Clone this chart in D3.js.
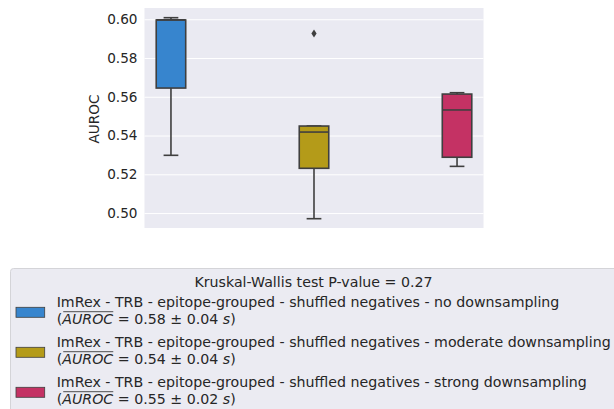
<!DOCTYPE html>
<html>
<head>
<meta charset="utf-8">
<script src="https://cdn.jsdelivr.net/npm/d3@7"></script>
<style>
  body { margin: 0; background: #fff; }
  svg { display: block; font-family: "DejaVu Sans", sans-serif; }
</style>
</head>
<body>
<svg id="chart" width="614" height="409"></svg>
<script>
// data
const groups = ["none", "moderate", "strong"];
const boxColors = ["#3785ce", "#b49b19", "#c43264"];
const whiskerLow = [0.5298, 0.4971, 0.5241];
const quartile1 = [0.5645, 0.5231, 0.5288];
const medians = [0.5997, 0.5418, 0.5532];
const quartile3 = [0.5996, 0.5449, 0.5614];
const whiskerHigh = [0.6008, 0.5449, 0.5621];
const outliers = [[], [0.5926], []];
const yTicks = [0.50, 0.52, 0.54, 0.56, 0.58, 0.60];

const legendTitle = "Kruskal-Wallis test P-value = 0.27";
const legendLabels = [
    "ImRex - TRB - epitope-grouped - shuffled negatives - no downsampling",
    "ImRex - TRB - epitope-grouped - shuffled negatives - moderate downsampling",
    "ImRex - TRB - epitope-grouped - shuffled negatives - strong downsampling"
];
const meanAuroc = ["0.58", "0.54", "0.55"];
const sdAuroc = ["0.04", "0.04", "0.02"];

const plot = {left: 144.5, right: 483.5, top: 8, bottom: 228};
const lineColor = "#3f3f3f";
const boxWidth = 29.5;
const legendFont = "14.2px";

const svg = d3.select("#chart");

const x = d3.scalePoint()
    .domain(groups)
    .range([plot.left, plot.right])
    .padding(0.185);

const y = d3.scaleLinear()
    .domain([0.4923, 0.6058])
    .range([plot.bottom, plot.top]);

// axes background
svg.append("rect")
    .attr("x", plot.left)
    .attr("y", plot.top)
    .attr("width", plot.right - plot.left)
    .attr("height", plot.bottom - plot.top)
    .attr("fill", "#eaeaf2");

// y axis with grid
const yAxis = svg.append("g")
    .attr("transform", "translate(" + plot.left + ",0)")
    .call(d3.axisLeft(y).tickValues(yTicks).tickFormat(d3.format(".2f"))
        .tickSize(-(plot.right - plot.left)).tickPadding(7));
yAxis.select(".domain").remove();
yAxis.selectAll(".tick line").attr("stroke", "#fff").attr("stroke-width", 1);
yAxis.selectAll(".tick text")
    .attr("fill", "#262626")
    .style("font-size", "13.6px")
    .style("font-family", "DejaVu Sans");

svg.append("text")
    .attr("transform", "translate(99," + ((plot.top + plot.bottom) / 2 + 1) + ") rotate(-90)")
    .attr("text-anchor", "middle")
    .attr("fill", "#262626")
    .style("font-size", "13.6px")
    .text("AUROC");

// boxes
groups.forEach(function (g, i) {
    let cx = x(g);
    let grp = svg.append("g");

    // whiskers
    grp.append("line")
        .attr("x1", cx).attr("x2", cx)
        .attr("y1", y(quartile1[i])).attr("y2", y(whiskerLow[i]))
        .attr("stroke", lineColor).attr("stroke-width", 1.6);
    grp.append("line")
        .attr("x1", cx).attr("x2", cx)
        .attr("y1", y(quartile3[i])).attr("y2", y(whiskerHigh[i]))
        .attr("stroke", lineColor).attr("stroke-width", 1.6);
    [whiskerLow[i], whiskerHigh[i]].forEach(function (v) {
        grp.append("line")
            .attr("x1", cx - boxWidth / 4).attr("x2", cx + boxWidth / 4)
            .attr("y1", y(v)).attr("y2", y(v))
            .attr("stroke", lineColor).attr("stroke-width", 1.6);
    });

    grp.append("rect")
        .attr("x", cx - boxWidth / 2)
        .attr("y", y(quartile3[i]))
        .attr("width", boxWidth)
        .attr("height", y(quartile1[i]) - y(quartile3[i]))
        .attr("fill", boxColors[i])
        .attr("stroke", lineColor)
        .attr("stroke-width", 1.6);

    grp.append("line")
        .attr("x1", cx - boxWidth / 2).attr("x2", cx + boxWidth / 2)
        .attr("y1", y(medians[i])).attr("y2", y(medians[i]))
        .attr("stroke", lineColor).attr("stroke-width", 1.6);

    grp.selectAll("path.flier")
        .data(outliers[i])
        .enter()
        .append("path")
        .attr("class", "flier")
        .attr("transform", function (d) { return "translate(" + cx + "," + y(d) + ")"; })
        .attr("d", "M0,-4L2.6,0L0,4L-2.6,0Z")
        .attr("fill", lineColor);
});

// legend
const legend = svg.append("g");
legend.append("rect")
    .attr("x", 10.5)
    .attr("y", 268.5)
    .attr("width", 620)
    .attr("height", 160)
    .attr("rx", 3)
    .attr("fill", "#ebebf2")
    .attr("stroke", "#d4d4d8")
    .attr("stroke-width", 1);

legend.append("text")
    .attr("x", 313.5)
    .attr("y", 287)
    .attr("text-anchor", "middle")
    .attr("fill", "#262626")
    .style("font-size", legendFont)
    .text(legendTitle);

legendLabels.forEach(function (label, i) {
    let base = 306.7 + i * 40;

    legend.append("rect")
        .attr("x", 16)
        .attr("y", 307.3 + i * 40)
        .attr("width", 28.7)
        .attr("height", 10)
        .attr("fill", boxColors[i])
        .attr("stroke", lineColor)
        .attr("stroke-width", 0.8);

    legend.append("text")
        .attr("x", 56.7)
        .attr("y", base)
        .attr("fill", "#262626")
        .style("font-size", legendFont)
        .text(label);

    let second = legend.append("text")
        .attr("x", 56.7)
        .attr("y", base + 17.3)
        .attr("fill", "#262626")
        .style("font-size", legendFont);
    second.append("tspan").text("(");
    second.append("tspan").style("font-style", "italic").text("AUROC");
    second.append("tspan").text(" = " + meanAuroc[i] + " \u00b1 " + sdAuroc[i] + " ");
    second.append("tspan").style("font-style", "italic").text("s");
    second.append("tspan").text(")");

    let node = second.node();
    let x0 = node.getStartPositionOfChar(1).x + 1;
    let x1 = node.getEndPositionOfChar(5).x;
    legend.append("line")
        .attr("x1", x0).attr("x2", x1)
        .attr("y1", base + 5).attr("y2", base + 5)
        .attr("stroke", "#262626")
        .attr("stroke-width", 0.8);
});
</script>
</body>
</html>
